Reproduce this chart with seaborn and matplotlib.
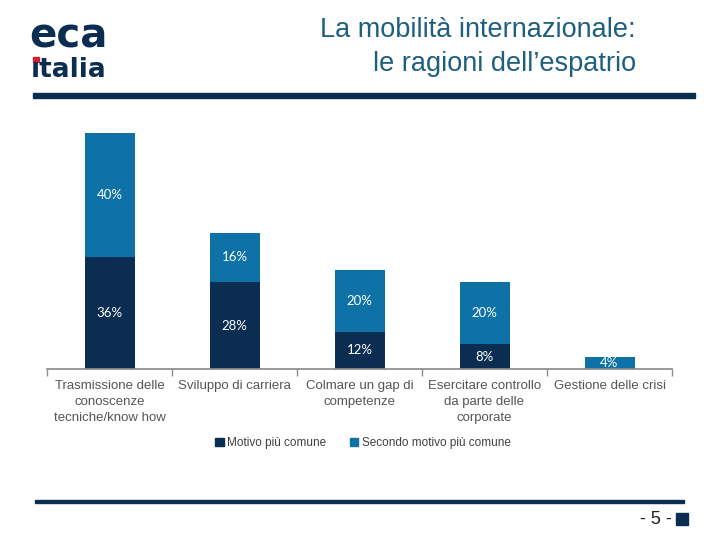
import numpy as np
import pandas as pd
import matplotlib.pyplot as plt
from matplotlib.patches import Rectangle
import seaborn as sns

sns.set_theme(style="white")
plt.rcParams['font.family'] = ['Liberation Sans', 'DejaVu Sans']

# dati
categorie = ["Trasmissione delle\nconoscenze\ntecniche/know how",
             "Sviluppo di carriera",
             "Colmare un gap di\ncompetenze",
             "Esercitare controllo\nda parte delle\ncorporate",
             "Gestione delle crisi"]
motivo = [36, 28, 12, 8, 0]
secondo = [40, 16, 20, 20, 4]

navy = "#0b2d52"
blu = "#0f72a6"

df = pd.DataFrame({"cat": categorie, "motivo": motivo, "secondo": secondo})
df["totale"] = df["motivo"] + df["secondo"]

fig = plt.figure(figsize=(7.2, 5.4), dpi=100)
ax = fig.add_axes([47/720, 1-369/540, 625/720, 248/540])

# barre impilate: totale sotto, motivo sopra
sns.barplot(data=df, x="cat", y="totale", color=blu, width=0.4, saturation=1,
            linewidth=0, ax=ax)
sns.barplot(data=df, x="cat", y="motivo", color=navy, width=0.4, saturation=1,
            linewidth=0, ax=ax)

# etichette
for i, r in df.iterrows():
    if r["motivo"] > 0:
        ax.text(i, r["motivo"]/2, f"{r['motivo']}%", ha="center", va="center",
                color="white", fontsize=9.5, family="Lato")
    if r["secondo"] > 0:
        ax.text(i, r["motivo"] + r["secondo"]/2, f"{r['secondo']}%", ha="center", va="center",
                color="white", fontsize=9.5, family="Lato")

ax.set_xlim(-0.5, 4.5)
ax.set_ylim(0, 80)
ax.set_yticks([])
ax.set_xlabel("")
ax.set_ylabel("")
for s in ["top", "right", "left"]:
    ax.spines[s].set_visible(False)
ax.spines["bottom"].set_color("#8c8c8c")
ax.set_xticks(range(5))
ax.set_xticklabels(categorie, fontsize=9.5, color="#555555", linespacing=1.45)
ax.set_xticks(np.arange(-0.5, 5, 1), minor=True)
ax.tick_params(axis="x", which="major", length=0, pad=8)
ax.tick_params(axis="x", which="minor", length=5, color="#8c8c8c", bottom=True)

# legenda
h1 = Rectangle((0, 0), 1, 1, color=navy)
h2 = Rectangle((0, 0), 1, 1, color=blu)
fig.legend([h1, h2], ["Motivo più comune", "Secondo motivo più comune"],
           loc="center", bbox_to_anchor=(363/720, 1-443/540), ncol=2, frameon=False,
           fontsize=8.5, handlelength=0.7, handleheight=0.7, handletextpad=0.3,
           columnspacing=2.0, labelcolor="#404040")

# intestazione
fig.text(636/720, 1-30/540, "La mobilità internazionale:",
         ha="right", va="center", fontsize=19.5, color="#1e5f7e")
fig.text(636/720, 1-64/540, "le ragioni dell\u2019espatrio",
         ha="right", va="center", fontsize=19.5, color="#1e5f7e")
fig.add_artist(Rectangle((33/720, 1-98/540), 662/720, 5/540, color=navy,
                         transform=fig.transFigure))

# logo
fig.text(29/720, 1-37/540, "eca", ha="left", va="center", fontsize=29,
         fontweight="heavy", color=navy, family="DejaVu Sans")
fig.text(31/720, 1-70/540, "\u0131talia", ha="left", va="center", fontsize=19,
         fontweight="heavy", color=navy, family="DejaVu Sans")
fig.add_artist(Rectangle((33/720, 1-62/540), 6/720, 5/540, color="#d0202e",
                         transform=fig.transFigure))

# piede
fig.add_artist(Rectangle((35/720, 1-503/540), 649/720, 3/540, color=navy,
                         transform=fig.transFigure))
fig.text(672/720, 1-519/540, "- 5 -", ha="right", va="center", fontsize=13, color="#222222")
fig.add_artist(Rectangle((676/720, 1-525/540), 12/720, 12/540, color=navy,
                         transform=fig.transFigure))

fig.savefig("out.png", dpi=100)
